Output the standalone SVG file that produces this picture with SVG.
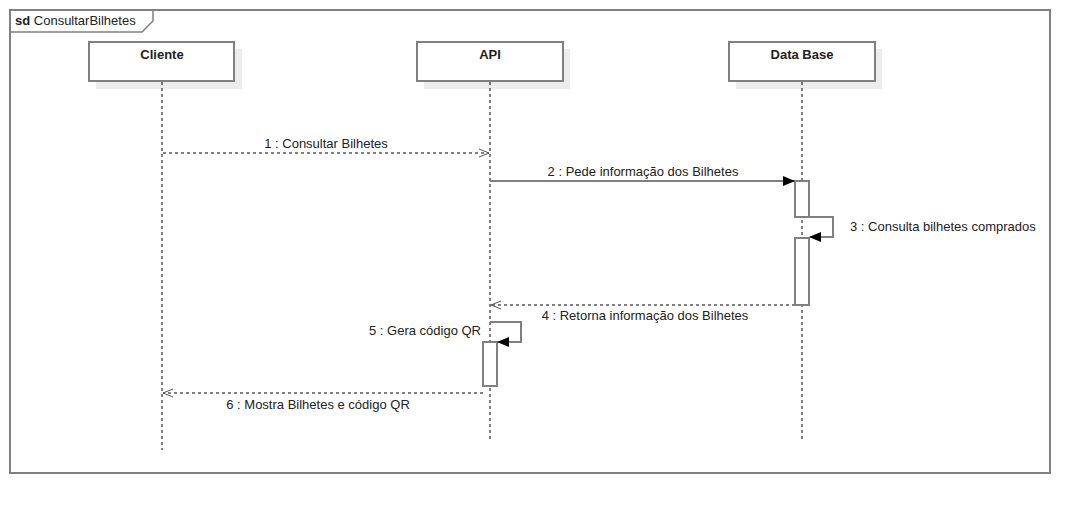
<svg xmlns="http://www.w3.org/2000/svg" width="1090" height="514" viewBox="0 0 1090 514">
<style>
text{font-family:"Liberation Sans",Arial,sans-serif;font-size:13px;fill:#222}
.hd{font-weight:bold;text-anchor:middle}
.box{fill:#fff;stroke:#808080;stroke-width:2}
.sh{fill:#ececec}
.life{stroke:#000;stroke-width:1;stroke-dasharray:3,3;fill:none}
.act{fill:#fff;stroke:#808080;stroke-width:2}
.msg{stroke:#808080;stroke-width:2;fill:none}
.ret{stroke:#808080;stroke-width:2;stroke-dasharray:3,3;fill:none}
</style>
<defs>
<marker id="fill" markerWidth="12" markerHeight="10" refX="11" refY="5" orient="auto" markerUnits="userSpaceOnUse"><path d="M0,0 L12,5 L0,10 Z" fill="#000"/></marker>
<marker id="open" markerWidth="12" markerHeight="10" refX="11" refY="5" orient="auto" markerUnits="userSpaceOnUse"><path d="M1,1 L11,5 L1,9" fill="none" stroke="#555" stroke-width="1"/></marker>
</defs>
<rect width="1090" height="514" fill="#fff"/>
<g id="frame">
<rect x="10" y="10" width="1040" height="463" fill="none" stroke="#808080" stroke-width="2"/>
<path d="M10,32 H142 L153,21 V10" fill="none" stroke="#808080" stroke-width="1.5"/>
<text x="15" y="25"><tspan font-weight="bold">sd</tspan> ConsultarBilhetes</text>
</g>
<g id="cliente">
<rect class="sh" x="96" y="49" width="146" height="40"/>
<rect class="box" x="89" y="42" width="145" height="39"/>
<text class="hd" x="162" y="59">Cliente</text>
<line class="life" x1="162" y1="82" x2="162" y2="450"/>
</g>
<g id="api">
<rect class="sh" x="424" y="49" width="146" height="40"/>
<rect class="box" x="417" y="42" width="146" height="39"/>
<text class="hd" x="490" y="59">API</text>
<line class="life" x1="490" y1="82" x2="490" y2="440"/>
<rect class="act" x="483" y="342" width="14" height="44"/>
</g>
<g id="database">
<rect class="sh" x="736" y="49" width="146" height="40"/>
<rect class="box" x="729" y="42" width="146" height="39"/>
<text class="hd" x="802" y="59">Data Base</text>
<line class="life" x1="802" y1="82" x2="802" y2="440"/>
<rect class="act" x="795" y="181" width="14" height="36"/>
<rect class="act" x="795" y="238" width="14" height="67"/>
</g>
<g id="connectors">
<line class="ret" x1="163" y1="153" x2="489" y2="153" marker-end="url(#open)"/>
<text x="326" y="148" text-anchor="middle">1 : Consultar Bilhetes</text>
<line class="msg" x1="490" y1="181" x2="794" y2="181" marker-end="url(#fill)"/>
<text x="643" y="176" text-anchor="middle">2 : Pede informação dos Bilhetes</text>
<polyline class="msg" points="809,217 833,217 833,237 810,237" marker-end="url(#fill)"/>
<text x="850" y="231">3 : Consulta bilhetes comprados</text>
<line class="ret" x1="795" y1="305" x2="491" y2="305" marker-end="url(#open)"/>
<text x="645" y="320" text-anchor="middle">4 : Retorna informação dos Bilhetes</text>
<polyline class="msg" points="490,322 521,322 521,342 498,342" marker-end="url(#fill)"/>
<text x="481" y="335" text-anchor="end">5 : Gera código QR</text>
<line class="ret" x1="483" y1="393" x2="163" y2="393" marker-end="url(#open)"/>
<text x="318" y="409" text-anchor="middle">6 : Mostra Bilhetes e código QR</text>
</g>
</svg>
